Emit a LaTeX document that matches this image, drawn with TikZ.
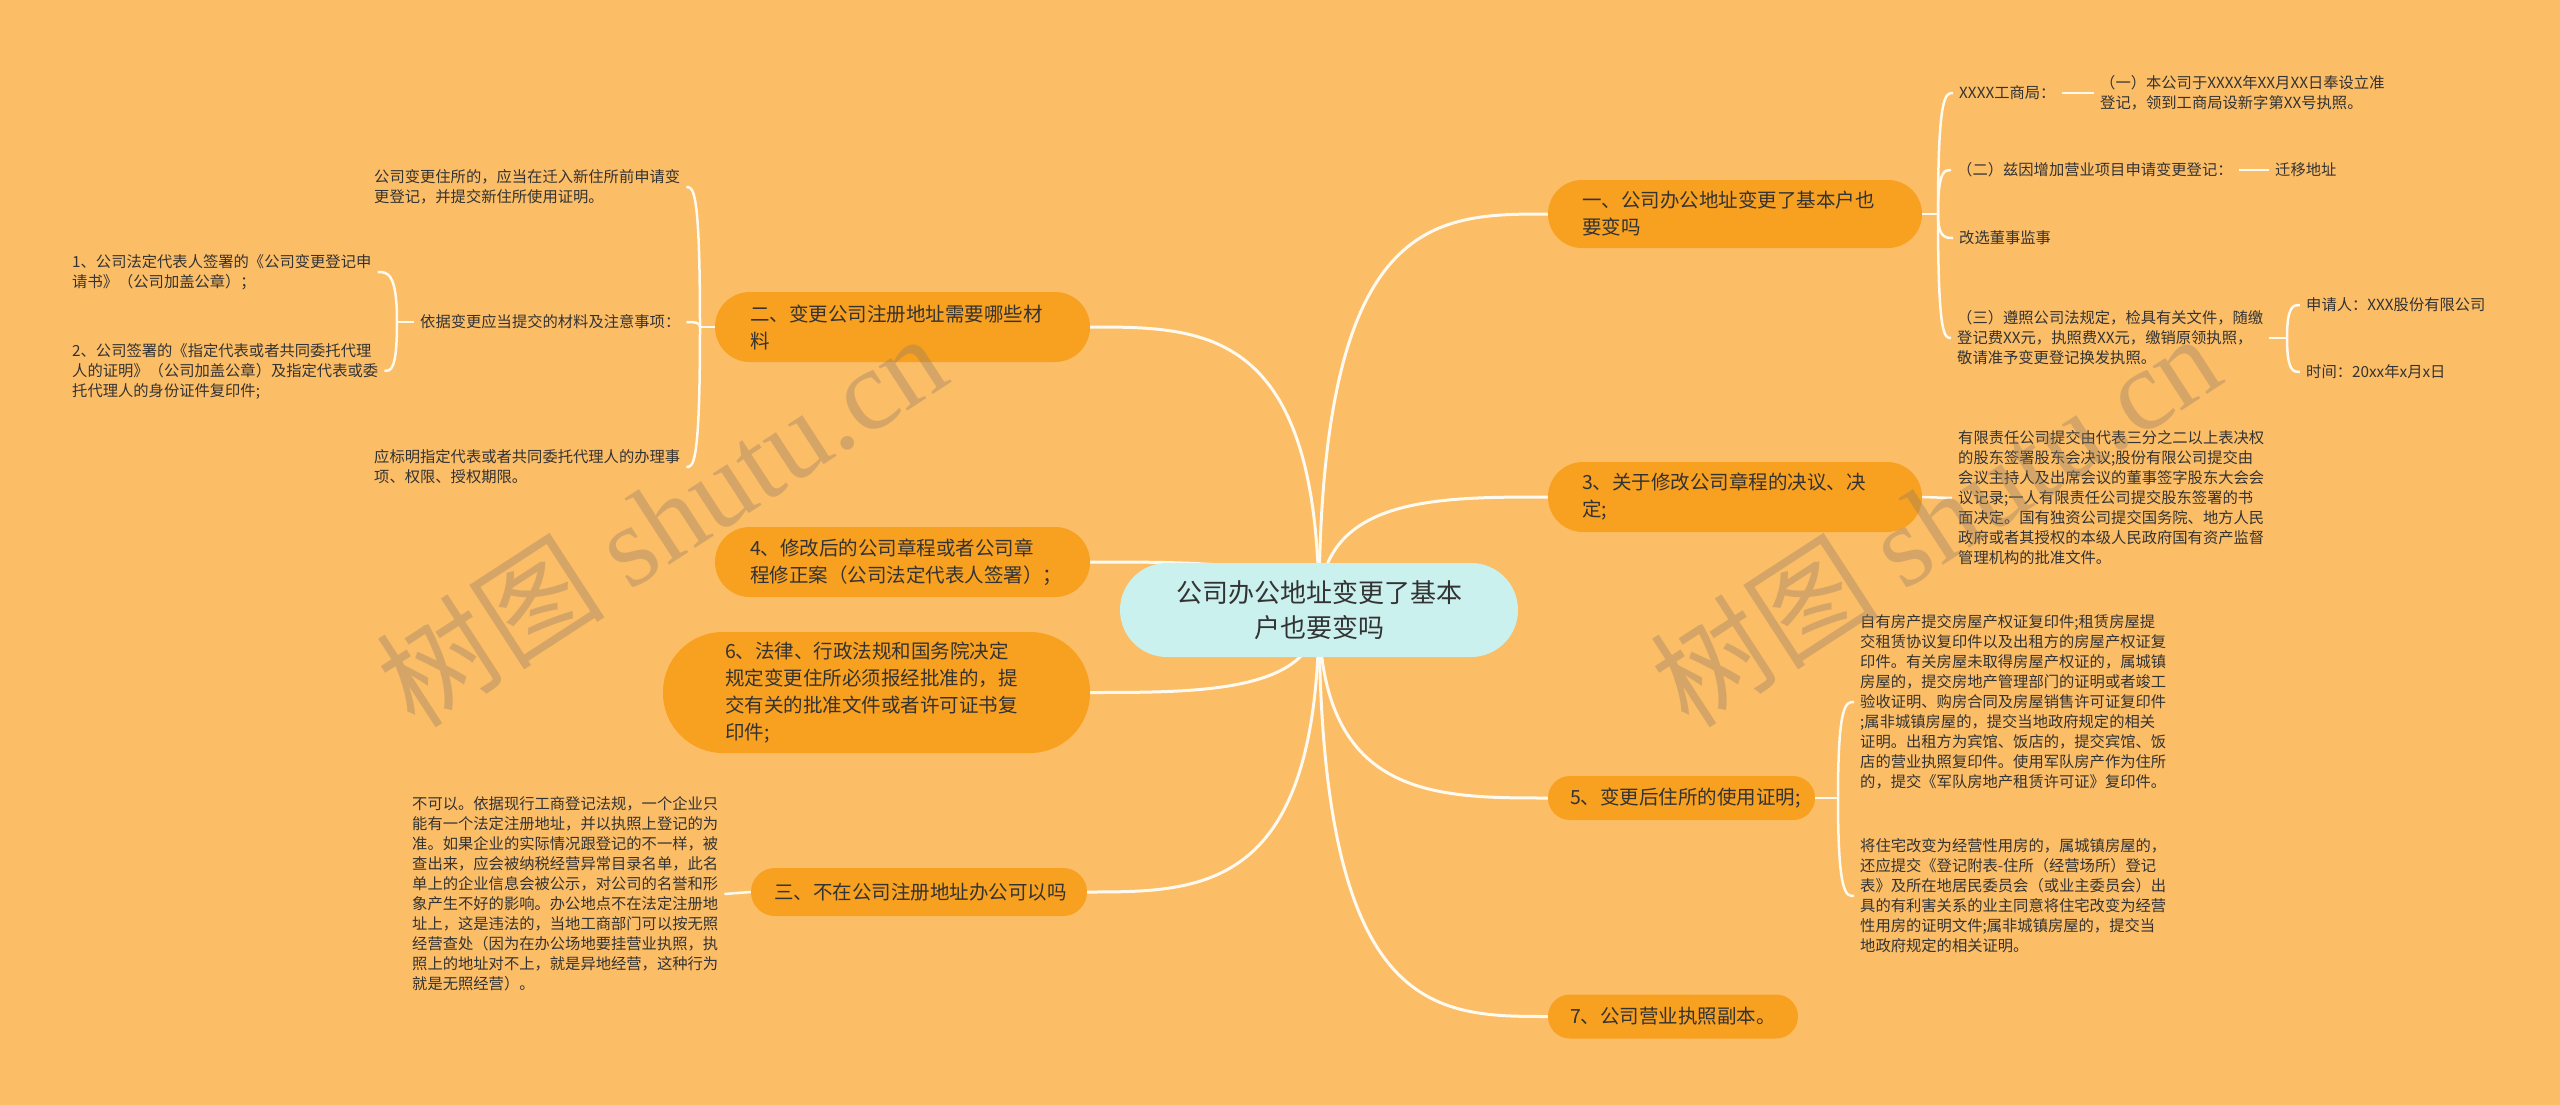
\documentclass[tikz,border=0pt]{standalone}
\usepackage{fontspec}
\setmainfont{Noto Sans CJK SC}
\newfontfamily\wmlatin{Liberation Serif}
\usetikzlibrary{calc}
\pgfdeclarelayer{bgl}
\pgfdeclarelayer{lines}
\pgfsetlayers{bgl,lines,main}
\definecolor{bgc}{HTML}{FCBD67}
\definecolor{brc}{HTML}{F8A01F}
\definecolor{rootc}{HTML}{CBF1EE}
\definecolor{txt}{HTML}{333333}
\definecolor{linec}{HTML}{FFFAF0}
\definecolor{wmc}{HTML}{8C7A66}
\newcommand{\mmlink}[3][mainline]{\draw[#1] (#2) .. controls (#2 |- #3) and ($(#2 |- #3)!0.5!(#3)$) .. (#3);}
\begin{document}
\begin{tikzpicture}[x=1pt,y=-1pt,
  mainline/.style={line width=3pt, draw=linec},
  leafline/.style={line width=2.5pt, draw=linec},
  branch/.style={fill=brc, text=txt, align=left, inner ysep=0pt, font=\fontsize{19.5}{27}\selectfont},
  leaf/.style={text=txt, align=left, inner xsep=6pt, inner ysep=0pt, anchor=west, font=\fontsize{15.3}{20}\selectfont},
  wm/.style={text=wmc, text opacity=0.35, font=\fontsize{115}{115}\selectfont, inner sep=0pt}]
\begin{pgfonlayer}{bgl}
\fill[bgc] (0,0) rectangle (2560,1105);
\end{pgfonlayer}
\useasboundingbox (0,0) rectangle (2560,1105);

% root
\node[fill=rootc, text=txt, align=center, minimum width=398pt, minimum height=94pt, rounded corners=47pt, inner sep=0pt, font=\fontsize{26}{35}\selectfont] (root) at (1319,610) {公司办公地址变更了基本\\户也要变吗};

% branches right
\node[branch, text width=306pt, inner xsep=34pt, minimum height=68pt, rounded corners=34pt] (n1) at (1735,214) {一、公司办公地址变更了基本户也\\要变吗};
\node[branch, text width=306pt, inner xsep=34pt, minimum height=70pt, rounded corners=35pt] (n3) at (1735,497) {3、关于修改公司章程的决议、决\\定;};
\node[branch, text width=223pt, inner xsep=22pt, minimum height=44pt, rounded corners=22pt] (n5) at (1681.5,798) {5、变更后住所的使用证明;};
\node[branch, text width=206pt, inner xsep=22pt, minimum height=44pt, rounded corners=22pt] (n7) at (1673,1016.5) {7、公司营业执照副本。};

% branches left
\node[branch, text width=305pt, inner xsep=35pt, minimum height=70pt, rounded corners=35pt] (n2) at (902.5,327) {二、变更公司注册地址需要哪些材\\料};
\node[branch, text width=305pt, inner xsep=35pt, minimum height=70pt, rounded corners=35pt] (n4) at (902.5,562) {4、修改后的公司章程或者公司章\\程修正案（公司法定代表人签署）；};
\node[branch, text width=303pt, inner xsep=62pt, minimum height=121pt, rounded corners=60pt] (n6) at (876.5,692.5) {6、法律、行政法规和国务院决定\\规定变更住所必须报经批准的，提\\交有关的批准文件或者许可证书复\\印件;};
\node[branch, text width=290pt, inner xsep=23pt, minimum height=48pt, rounded corners=24pt] (n8) at (919,892) {三、不在公司注册地址办公可以吗};

% leaves of n1
\node[leaf] (a1) at (1953,93) {XXXX工商局：};
\node[leaf] (a1a) at (2094,93) {（一）本公司于XXXX年XX月XX日奉设立准\\登记，领到工商局设新字第XX号执照。};
\node[leaf] (a2) at (1951,170) {（二）兹因增加营业项目申请变更登记：};
\node[leaf] (a2a) at (2269,170) {迁移地址};
\node[leaf] (a3) at (1953,238) {改选董事监事};
\node[leaf] (a4) at (1951,338) {（三）遵照公司法规定，检具有关文件，随缴\\登记费XX元，执照费XX元，缴销原领执照，\\敬请准予变更登记换发执照。};
\node[leaf] (a4a) at (2300,305) {申请人：XXX股份有限公司};
\node[leaf] (a4b) at (2300,372) {时间：20xx年x月x日};

% leaf of n3
\node[leaf] (e1) at (1952,498) {有限责任公司提交由代表三分之二以上表决权\\的股东签署股东会决议;股份有限公司提交由\\会议主持人及出席会议的董事签字股东大会会\\议记录;一人有限责任公司提交股东签署的书\\面决定。国有独资公司提交国务院、地方人民\\政府或者其授权的本级人民政府国有资产监督\\管理机构的批准文件。};

% leaves of n5
\node[leaf] (b1) at (1854,702) {自有房产提交房屋产权证复印件;租赁房屋提\\交租赁协议复印件以及出租方的房屋产权证复\\印件。有关房屋未取得房屋产权证的，属城镇\\房屋的，提交房地产管理部门的证明或者竣工\\验收证明、购房合同及房屋销售许可证复印件\\;属非城镇房屋的，提交当地政府规定的相关\\证明。出租方为宾馆、饭店的，提交宾馆、饭\\店的营业执照复印件。使用军队房产作为住所\\的，提交《军队房地产租赁许可证》复印件。};
\node[leaf] (b2) at (1854,896) {将住宅改变为经营性用房的，属城镇房屋的，\\还应提交《登记附表-住所（经营场所）登记\\表》及所在地居民委员会（或业主委员会）出\\具的有利害关系的业主同意将住宅改变为经营\\性用房的证明文件;属非城镇房屋的，提交当\\地政府规定的相关证明。};

% leaves of n2
\node[leaf] (c1) at (368,187) {公司变更住所的，应当在迁入新住所前申请变\\更登记，并提交新住所使用证明。};
\node[leaf] (c2) at (414,322) {依据变更应当提交的材料及注意事项：};
\node[leaf] (c3) at (368,467) {应标明指定代表或者共同委托代理人的办理事\\项、权限、授权期限。};
\node[leaf] (c2a) at (66,272) {1、公司法定代表人签署的《公司变更登记申\\请书》（公司加盖公章）；};
\node[leaf] (c2b) at (66,371) {2、公司签署的《指定代表或者共同委托代理\\人的证明》（公司加盖公章）及指定代表或委\\托代理人的身份证件复印件;};

% leaf of n8
\node[leaf] (d1) at (406,894) {不可以。依据现行工商登记法规，一个企业只\\能有一个法定注册地址，并以执照上登记的为\\准。如果企业的实际情况跟登记的不一样，被\\查出来，应会被纳税经营异常目录名单，此名\\单上的企业信息会被公示，对公司的名誉和形\\象产生不好的影响。办公地点不在法定注册地\\址上，这是违法的，当地工商部门可以按无照\\经营查处（因为在办公场地要挂营业执照，执\\照上的地址对不上，就是异地经营，这种行为\\就是无照经营）。};

% junctions
\coordinate (j1) at (1938,214);
\coordinate (j4) at (2287,338);
\coordinate (j5) at (1838,798);
\coordinate (j2) at (700,327);
\coordinate (j3) at (397,322);

\begin{pgfonlayer}{lines}
\mmlink{root.center}{n1.west}
\mmlink{root.center}{n3.west}
\mmlink{root.center}{n5.west}
\mmlink{root.center}{n7.west}
\mmlink{root.center}{n2.east}
\mmlink{root.center}{n4.east}
\mmlink{root.center}{n6.east}
\mmlink{root.center}{n8.east}
\draw[leafline] (n1.east) -- (j1);
\mmlink[leafline]{j1}{a1.west}
\mmlink[leafline]{j1}{a2.west}
\mmlink[leafline]{j1}{a3.west}
\mmlink[leafline]{j1}{a4.west}
\draw[leafline] (a1.east) -- (a1a.west);
\draw[leafline] (a2.east) -- (a2a.west);
\draw[leafline] (a4.east) -- (j4);
\mmlink[leafline]{j4}{a4a.west}
\mmlink[leafline]{j4}{a4b.west}
\draw[leafline] (n3.east) -- (e1.west);
\draw[leafline] (n5.east) -- (j5);
\mmlink[leafline]{j5}{b1.west}
\mmlink[leafline]{j5}{b2.west}
\draw[leafline] (n2.west) -- (j2);
\mmlink[leafline]{j2}{c1.east}
\mmlink[leafline]{j2}{c2.east}
\mmlink[leafline]{j2}{c3.east}
\draw[leafline] (c2.west) -- (j3);
\mmlink[leafline]{j3}{c2a.east}
\mmlink[leafline]{j3}{c2b.east}
\draw[leafline] (n8.west) -- (d1.east);
\end{pgfonlayer}

% watermarks
\node[wm, rotate=33] (wm1) at (661,519) {树图 {\wmlatin shutu.cn}};
\node[wm, rotate=33] (wm2) at (1935,519) {树图 {\wmlatin shutu.cn}};
\end{tikzpicture}
\end{document}
